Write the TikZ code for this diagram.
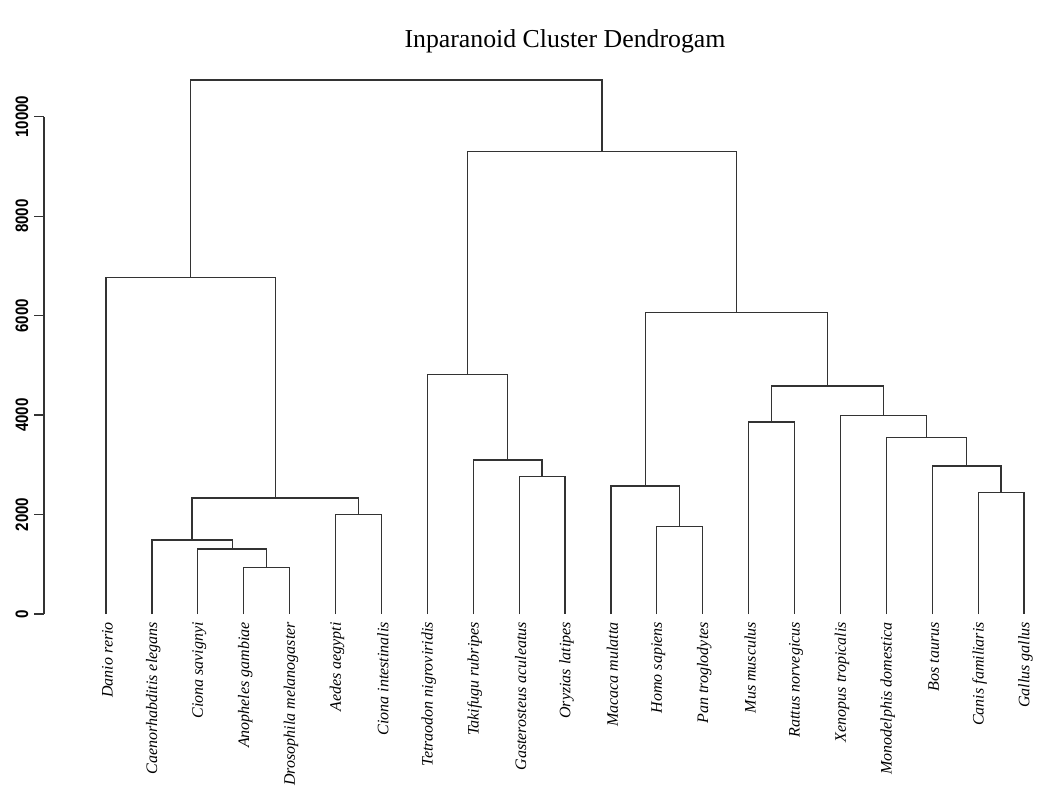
\documentclass[tikz,border=0pt]{standalone}
\usepackage{fontspec}
\setmainfont{Liberation Serif}
\newfontfamily\axisfont[FakeStretch=0.84]{Liberation Sans}
\usetikzlibrary{calc}
\begin{document}
\begin{tikzpicture}[x=1pt,y=-1pt,
  branch/.style={line width=1.2pt, draw=black!80},
  axisline/.style={line width=1.2pt, draw=black!80},
  leaflab/.style={rotate=90, anchor=east, inner sep=0pt, font=\fontsize{16}{16}\selectfont\itshape},
  ticklab/.style={rotate=90, anchor=center, inner sep=0pt, font=\axisfont\bfseries\fontsize{18}{18}\selectfont},
  titlelab/.style={anchor=center, inner sep=0pt, font=\fontsize{25.8}{25.8}\selectfont}]
\useasboundingbox[fill=white] (0,0) rectangle (1037,789);
% title
\node[titlelab] (title) at (565,41) {Inparanoid Cluster Dendrogam};
% y axis
\coordinate (ax0) at (44,614);
\coordinate (ax10) at (44,116.7);
\draw[axisline] (ax0) -- (ax10);
\foreach \k/\lab in {0/0,1/2000,2/4000,3/6000,4/8000,5/10000}{
  \draw[axisline] (34,{614-\k*99.46}) -- (44,{614-\k*99.46});
  \node[ticklab] (t\k) at (22,{614-\k*99.46}) {\lab};
}
% leaves
\foreach \i/\name in {0/Danio rerio,1/Caenorhabditis elegans,2/Ciona savignyi,3/Anopheles gambiae,4/Drosophila melanogaster,5/Aedes aegypti,6/Ciona intestinalis,7/Tetraodon nigroviridis,8/Takifugu rubripes,9/Gasterosteus aculeatus,10/Oryzias latipes,11/Macaca mulatta,12/Homo sapiens,13/Pan troglodytes,14/Mus musculus,15/Rattus norvegicus,16/Xenopus tropicalis,17/Monodelphis domestica,18/Bos taurus,19/Canis familiaris,20/Gallus gallus}{
  \coordinate (l\i) at ({106+45.9*\i},614);
  \node[leaflab] (n\i) at ({106+45.9*\i+1.5},622) {\name};
}
% merge points
\coordinate (A) at (266.65,567.7);
\coordinate (B) at (232.2,549);
\coordinate (C) at (192.05,540);
\coordinate (D) at (358.45,514.3);
\coordinate (E) at (275.25,498);
\coordinate (F) at (190.6,277.4);
\coordinate (G) at (542.05,476.7);
\coordinate (H) at (507.6,460);
\coordinate (I) at (467.45,374.3);
\coordinate (J) at (679.75,526.7);
\coordinate (K) at (645.3,486);
\coordinate (L) at (771.55,422);
\coordinate (M) at (1001.05,492.7);
\coordinate (N) at (966.6,466);
\coordinate (O) at (926.45,437.7);
\coordinate (P) at (883.4,415.5);
\coordinate (Q) at (827.5,386);
\coordinate (R) at (736.4,312.3);
\coordinate (S) at (601.9,151.7);
\coordinate (T) at (396.25,80);
% branches
\draw[branch] (l3) |- (A) -| (l4);
\draw[branch] (l2) |- (B) -| (A);
\draw[branch] (l1) |- (C) -| (B);
\draw[branch] (l5) |- (D) -| (l6);
\draw[branch] (C) |- (E) -| (D);
\draw[branch] (l0) |- (F) -| (E);
\draw[branch] (l9) |- (G) -| (l10);
\draw[branch] (l8) |- (H) -| (G);
\draw[branch] (l7) |- (I) -| (H);
\draw[branch] (l12) |- (J) -| (l13);
\draw[branch] (l11) |- (K) -| (J);
\draw[branch] (l14) |- (L) -| (l15);
\draw[branch] (l19) |- (M) -| (l20);
\draw[branch] (l18) |- (N) -| (M);
\draw[branch] (l17) |- (O) -| (N);
\draw[branch] (l16) |- (P) -| (O);
\draw[branch] (L) |- (Q) -| (P);
\draw[branch] (K) |- (R) -| (Q);
\draw[branch] (I) |- (S) -| (R);
\draw[branch] (F) |- (T) -| (S);
\end{tikzpicture}
\end{document}
